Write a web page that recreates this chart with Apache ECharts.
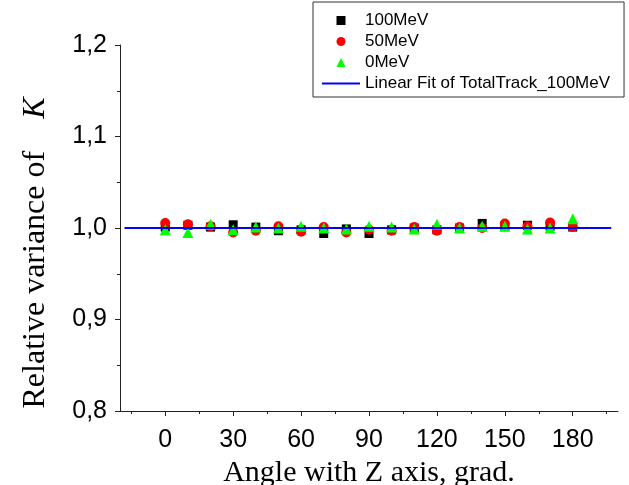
<!DOCTYPE html>
<html>
<head>
<meta charset="utf-8">
<script src="https://cdn.jsdelivr.net/npm/echarts@6/dist/echarts.min.js"></script>
<style>
html,body{margin:0;padding:0;background:#fff;}
#chart{width:629px;height:485px;}
</style>
</head>
<body>
<div id="chart"></div>
<script>
var angles = [0,10,20,30,40,50,60,70,80,90,100,110,120,130,140,150,160,170,180];
var mev100 = [1.001,1.003,1.001,1.0035,1.001,0.997,0.998,0.994,0.999,0.994,0.998,1.000,0.998,1.000,1.005,1.002,1.003,1.002,1.001];
var mev50  = [1.0055,1.004,1.002,0.995,0.997,1.002,0.996,1.001,0.995,0.998,0.997,1.001,0.997,1.001,1.000,1.005,1.002,1.006,1.001];
var mev0   = [0.998,0.995,1.004,0.998,1.001,1.000,1.002,1.000,0.999,1.002,1.001,0.999,1.004,1.000,1.002,1.002,0.999,1.000,1.010];
var fitX = [-18, 197];
var fitY = [1.000, 1.000];
var xMajorTicks = [0,30,60,90,120,150,180];
var xMinorTicks = [-15,15,45,75,105,135,165,195];
var seriesNames = ['100MeV','50MeV','0MeV','Linear Fit of TotalTrack_100MeV'];

function pairs(xs, ys){ return xs.map(function(x,i){ return [x, ys[i]]; }); }

var chart = echarts.init(document.getElementById('chart'), null, {renderer:'canvas'});
var axisColor = '#222';
var option = {
  backgroundColor: '#fff',
  animation: false,
  grid: {left:120, right:11, top:45, bottom:74, containLabel:false, outerBoundsMode:'none'},
  legend: {
    orient:'vertical', left:313, top:2,
    borderColor:'#333', borderWidth:1, borderRadius:0,
    padding:[10,14,5,9], itemGap:4, itemWidth:38, itemHeight:9,
    symbolKeepAspect:true,
    textStyle:{fontFamily:'Liberation Sans', fontSize:17, color:'#000'},
    data: [
      {name:seriesNames[0], icon:'path://M0,0L10,0L10,10L0,10Z'},
      {name:seriesNames[1], icon:'circle'},
      {name:seriesNames[2], icon:'path://M5,0L10,10L0,10Z'},
      {name:seriesNames[3], icon:'path://M0,0L38,0L38,2L0,2Z'}
    ]
  },
  xAxis: [{
    type:'value', min:-20, max:200,
    name:'Angle with Z axis, grad.', nameLocation:'middle', nameGap:42,
    nameTextStyle:{fontFamily:'Liberation Serif', fontSize:30, color:'#000'},
    axisLine:{show:true, onZero:false, lineStyle:{color:axisColor, width:1}},
    axisTick:{show:true, inside:false, length:5, customValues:xMajorTicks, lineStyle:{color:axisColor}},
    axisLabel:{show:true, customValues:xMajorTicks, margin:17, fontFamily:'Liberation Sans', fontSize:25, color:'#000'},
    splitLine:{show:false}
  },{
    type:'value', min:-20, max:200, position:'bottom',
    axisLine:{show:false},
    axisTick:{show:true, inside:false, length:3, customValues:xMinorTicks, lineStyle:{color:axisColor}},
    axisLabel:{show:false},
    splitLine:{show:false}
  }],
  yAxis: {
    type:'value', min:0.8, max:1.2, interval:0.1,
    name:'Relative variance of    {k|K}', nameLocation:'middle', nameGap:68, nameRotate:90,
    nameTextStyle:{fontFamily:'Liberation Serif', fontSize:32, color:'#000', padding:[0,50,0,0],
      rich:{k:{fontFamily:'Liberation Serif', fontStyle:'italic', fontSize:32, color:'#000'}}},
    axisLine:{show:true, onZero:false, lineStyle:{color:axisColor, width:1}},
    axisTick:{show:true, inside:false, length:5, lineStyle:{color:axisColor}},
    minorTick:{show:true, splitNumber:2, length:3, lineStyle:{color:axisColor}},
    axisLabel:{margin:13, fontFamily:'Liberation Sans', fontSize:25, color:'#000',
      formatter:function(v){ return v.toFixed(1).replace('.', ','); }},
    splitLine:{show:false}
  },
  series: [
    {name:seriesNames[0], type:'scatter', symbol:'rect', symbolSize:9,
     itemStyle:{color:'#000', opacity:1}, data:pairs(angles, mev100), z:2},
    {name:seriesNames[1], type:'scatter', symbol:'circle', symbolSize:10,
     itemStyle:{color:'#ff0000', opacity:1}, data:pairs(angles, mev50), z:3},
    {name:seriesNames[2], type:'scatter', symbol:'triangle', symbolSize:11,
     itemStyle:{color:'#00ff00', opacity:1}, data:pairs(angles, mev0), z:4},
    {name:seriesNames[3], type:'line', symbol:'none', showSymbol:false,
     lineStyle:{color:'#0000ff', width:2}, itemStyle:{color:'#0000ff'},
     data:pairs(fitX, fitY), z:5}
  ]
};
chart.setOption(option);
</script>
</body>
</html>
